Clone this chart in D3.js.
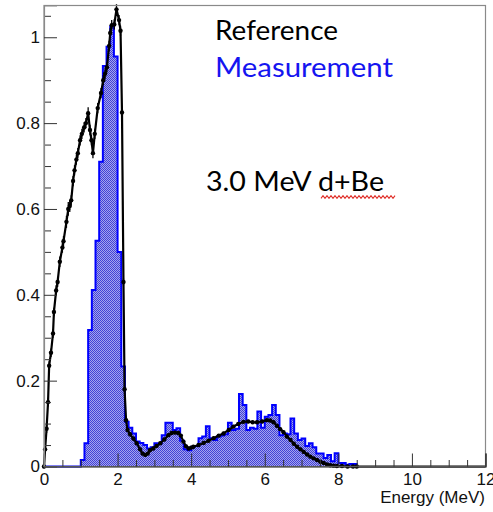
<!DOCTYPE html>
<html>
<head>
<meta charset="utf-8">
<script src="https://cdn.jsdelivr.net/npm/d3@7"></script>
<style>
  html, body { margin: 0; padding: 0; background: #fff; }
  svg { display: block; }
</style>
</head>
<body>
<svg id="chart" width="493" height="512"></svg>
<script>
// Measured spectrum: 0.1 MeV bins starting at 1.0 MeV (nothing below 1.0 MeV)
const measStart = 1.0;
const measBinWidth = 0.1;
const measCounts = [
  0.015, 0.054, 0.318, 0.411, 0.526, 0.710, 0.933, 0.978, 1.025, 0.955,
  0.500, 0.233, 0.104, 0.090, 0.077, 0.058, 0.055, 0.050, 0.042, 0.045,
  0.054, 0.054, 0.073, 0.102, 0.102, 0.085, 0.089, 0.060, 0.040, 0.038,
  0.046, 0.048, 0.066, 0.070, 0.094, 0.066, 0.062, 0.070, 0.072, 0.075,
  0.102, 0.085, 0.088, 0.169, 0.143, 0.085, 0.090, 0.088, 0.128, 0.090,
  0.116, 0.120, 0.143, 0.120, 0.073, 0.077, 0.075, 0.112, 0.077, 0.062,
  0.065, 0.048, 0.054, 0.045, 0.030, 0.030, 0.020, 0.027, 0.012, 0.031,
  0.008, 0.008, 0.004, 0.006, 0.006
];

// Reference spectrum: energy (MeV), value, error
const refEnergy = [
  0.00, 0.03, 0.07, 0.11, 0.14, 0.19, 0.245, 0.27, 0.33, 0.37,
  0.43, 0.50, 0.53, 0.61, 0.66, 0.70, 0.74, 0.79, 0.83, 0.88,
  0.92, 0.98, 1.03, 1.09, 1.14, 1.20, 1.25, 1.29, 1.33, 1.38,
  1.46, 1.55, 1.61, 1.66, 1.71, 1.77, 1.80, 1.84, 1.91, 1.97,
  2.04, 2.08, 2.12, 2.16, 2.19, 2.23, 2.27, 2.34, 2.43, 2.52,
  2.61, 2.68, 2.75, 2.82, 2.88, 2.97, 3.06, 3.16, 3.27, 3.38,
  3.47, 3.56, 3.65, 3.72, 3.79, 3.86, 3.93, 4.00, 4.06, 4.20,
  4.34, 4.47, 4.61, 4.75, 4.88, 5.02, 5.15, 5.28, 5.42, 5.55,
  5.67, 5.79, 5.93, 6.06, 6.15, 6.24, 6.33, 6.42, 6.51, 6.60,
  6.70, 6.79, 6.88, 6.97, 7.06, 7.15, 7.24, 7.33, 7.42, 7.51,
  7.60, 7.69, 7.78, 7.87, 7.96, 8.10, 8.25, 8.40, 8.50
];
const refValue = [
  0.000, 0.040, 0.088, 0.150, 0.235, 0.265, 0.310, 0.360, 0.410, 0.430,
  0.477, 0.510, 0.525, 0.570, 0.600, 0.607, 0.620, 0.665, 0.690, 0.715,
  0.730, 0.760, 0.775, 0.790, 0.800, 0.823, 0.784, 0.760, 0.730, 0.775,
  0.835, 0.870, 0.900, 0.915, 0.930, 0.980, 1.010, 1.028, 1.030, 1.065,
  1.040, 1.015, 0.825, 0.430, 0.180, 0.108, 0.085, 0.075, 0.065, 0.054,
  0.040, 0.030, 0.027, 0.030, 0.038, 0.042, 0.048, 0.054, 0.063, 0.073,
  0.078, 0.079, 0.078, 0.072, 0.058, 0.047, 0.042, 0.044, 0.046, 0.050,
  0.055, 0.060, 0.066, 0.072, 0.077, 0.085, 0.093, 0.099, 0.104, 0.105,
  0.103, 0.103, 0.105, 0.108, 0.107, 0.103, 0.095, 0.087, 0.080, 0.070,
  0.062, 0.053, 0.046, 0.040, 0.034, 0.028, 0.023, 0.019, 0.015, 0.011,
  0.008, 0.005, 0.003, 0.002, 0.001, 0.001, 0.000, 0.000, 0.000
];
const refError = [
  0.004, 0.010, 0.010, 0.010, 0.010, 0.010, 0.010, 0.010, 0.012, 0.012,
  0.012, 0.012, 0.012, 0.014, 0.016, 0.014, 0.012, 0.012, 0.012, 0.012,
  0.012, 0.012, 0.012, 0.012, 0.012, 0.014, 0.012, 0.012, 0.012, 0.012,
  0.012, 0.012, 0.012, 0.012, 0.012, 0.012, 0.012, 0.012, 0.012, 0.012,
  0.012, 0.012, 0.010, 0.008, 0.006, 0.005, 0.005, 0.005, 0.005, 0.004,
  0.004, 0.004, 0.004, 0.004, 0.004, 0.004, 0.004, 0.004, 0.004, 0.004,
  0.004, 0.004, 0.004, 0.004, 0.004, 0.004, 0.004, 0.004, 0.004, 0.004,
  0.004, 0.004, 0.004, 0.004, 0.004, 0.004, 0.004, 0.004, 0.004, 0.004,
  0.004, 0.004, 0.004, 0.004, 0.004, 0.004, 0.004, 0.004, 0.004, 0.004,
  0.004, 0.004, 0.004, 0.004, 0.004, 0.003, 0.003, 0.003, 0.003, 0.003,
  0.003, 0.002, 0.002, 0.002, 0.002, 0.002, 0.002, 0.002, 0.002
];

// Axis ticks
const xMajorTicks = [0, 2, 4, 6, 8, 10, 12];
const xTickLabels = ["0", "2", "4", "6", "8", "10", "12"];
const yMajorTicks = [0, 0.2, 0.4, 0.6, 0.8, 1.0];
const yTickLabels = ["0", "0.2", "0.4", "0.6", "0.8", "1"];
const xAxisTitle = "Energy (MeV)";

// Text annotations
const legendLines = [
  { text: "Reference", color: "#000000" },
  { text: "Measurement", color: "#1515f0" }
];
const beamLabel = "3.0 MeV d+Be";

// ---------------------------------------------------------------
const svg = d3.select("#chart");
const x = d3.scaleLinear().domain([0, 12]).range([44, 485.5]);
const y = d3.scaleLinear().domain([0, 1.074]).range([466.5, 5.5]);

// fine checker fill used for the measured histogram
const defs = svg.append("defs");
const pat = defs.append("pattern")
  .attr("id", "histFill").attr("patternUnits", "userSpaceOnUse")
  .attr("width", 2).attr("height", 2);
pat.append("rect").attr("width", 2).attr("height", 2).attr("fill", "#a4a4ee");
pat.append("rect").attr("width", 1).attr("height", 1).attr("fill", "#4242d6");
pat.append("rect").attr("x", 1).attr("y", 1).attr("width", 1).attr("height", 1).attr("fill", "#4242d6");

// step points for the histogram: zero up to the first bin, then each bin's low edge
const histPts = [[0, 0]];
measCounts.forEach((v, i) => histPts.push([measStart + i * measBinWidth, v]));
histPts.push([measStart + measCounts.length * measBinWidth, 0]);

const plot = svg.append("g");

plot.append("path")
  .datum(histPts)
  .attr("fill", "url(#histFill)")
  .attr("d", d3.area().curve(d3.curveStepAfter)
    .x(d => x(d[0])).y0(y(0)).y1(d => y(d[1])));

plot.append("path")
  .datum(histPts)
  .attr("fill", "none")
  .attr("stroke", "#0000ff")
  .attr("stroke-width", 2)
  .attr("d", d3.line().curve(d3.curveStepAfter)
    .x(d => x(d[0])).y(d => y(d[1])));

// reference spectrum
const refPts = refEnergy.map((e, i) => ({ e, v: refValue[i], err: refError[i] }));
const refLinePts = refPts.concat([{ e: 12, v: 0 }]);

plot.append("path")
  .datum(refLinePts)
  .attr("fill", "none")
  .attr("stroke", "#000")
  .attr("stroke-width", 2.2)
  .attr("stroke-linejoin", "round")
  .attr("d", d3.line().x(d => x(d.e)).y(d => y(d.v)));

plot.append("g").selectAll("line")
  .data(refPts).join("line")
  .attr("x1", d => x(d.e)).attr("x2", d => x(d.e))
  .attr("y1", d => y(d.v - d.err)).attr("y2", d => y(d.v + d.err))
  .attr("stroke", "#000").attr("stroke-width", 1.3);

plot.append("g").selectAll("circle")
  .data(refPts).join("circle")
  .attr("cx", d => x(d.e)).attr("cy", d => y(d.v))
  .attr("r", 2.2).attr("fill", "#000");

// frame
svg.append("rect")
  .attr("x", x(0)).attr("y", y(1.074))
  .attr("width", x(12) - x(0)).attr("height", y(0) - y(1.074))
  .attr("fill", "none").attr("stroke", "#8a8a8a").attr("stroke-width", 1.2);

// axes with inward ticks
const tickFont = "'Liberation Sans', Arial, Helvetica, sans-serif";

const xMinor = d3.range(0, 12.01, 0.5).filter(v => v % 2 !== 0);
svg.append("g").attr("transform", `translate(0,${y(0)})`)
  .call(d3.axisBottom(x).tickValues(xMinor).tickSize(-6.5).tickFormat(""))
  .call(g => g.select(".domain").remove())
  .call(g => g.selectAll("line").attr("stroke", "#333"));

const xAx = svg.append("g").attr("transform", `translate(0,${y(0)})`)
  .call(d3.axisBottom(x).tickValues(xMajorTicks).tickSize(-13).tickPadding(6)
    .tickFormat((d, i) => xTickLabels[i]));
xAx.select(".domain").attr("stroke", "#222").attr("stroke-width", 1.2);
xAx.selectAll("line").attr("stroke", "#333");
xAx.selectAll("text").attr("font-family", tickFont).attr("font-size", 17).attr("fill", "#111");

const yMinor = d3.range(0, 1.0501, 0.05).filter(v => Math.abs(v / 0.2 - Math.round(v / 0.2)) > 1e-6);
svg.append("g").attr("transform", `translate(${x(0)},0)`)
  .call(d3.axisLeft(y).tickValues(yMinor).tickSize(-7).tickFormat(""))
  .call(g => g.select(".domain").remove())
  .call(g => g.selectAll("line").attr("stroke", "#333"));

const yAx = svg.append("g").attr("transform", `translate(${x(0)},0)`)
  .call(d3.axisLeft(y).tickValues(yMajorTicks).tickSize(-13).tickPadding(4)
    .tickFormat((d, i) => yTickLabels[i]));
yAx.select(".domain").attr("stroke", "#8a8a8a").attr("stroke-width", 1.2);
yAx.selectAll("line").attr("stroke", "#333");
yAx.selectAll("text").attr("font-family", tickFont).attr("font-size", 17).attr("fill", "#111");

svg.append("text")
  .attr("x", 485).attr("y", 503)
  .attr("text-anchor", "end")
  .attr("font-family", tickFont).attr("font-size", 17).attr("fill", "#111")
  .text(xAxisTitle);

// annotations
const annoFont = "Lato, 'Open Sans', sans-serif";
const legendY = [40, 77];
const legendW = [123, 178];
legendLines.forEach((d, i) => {
  svg.append("text")
    .attr("x", 215).attr("y", legendY[i])
    .attr("font-family", annoFont).attr("font-size", 27)
    .attr("fill", d.color)
    .attr("textLength", legendW[i]).attr("lengthAdjust", "spacingAndGlyphs")
    .text(d.text);
});

svg.append("text")
  .attr("x", 206).attr("y", 191)
  .attr("font-family", annoFont).attr("font-size", 27)
  .attr("fill", "#000")
  .attr("textLength", 178).attr("lengthAdjust", "spacingAndGlyphs")
  .text(beamLabel);

// spell-check squiggle under "d+Be"
const wave = [];
for (let px = 321, k = 0; px <= 396; px += 2, k++) wave.push([px, 197 + (k % 2 ? -1.4 : 1.4)]);
svg.append("path")
  .attr("d", d3.line()(wave))
  .attr("fill", "none").attr("stroke", "#e0302a").attr("stroke-width", 1.1);
</script>
</body>
</html>
